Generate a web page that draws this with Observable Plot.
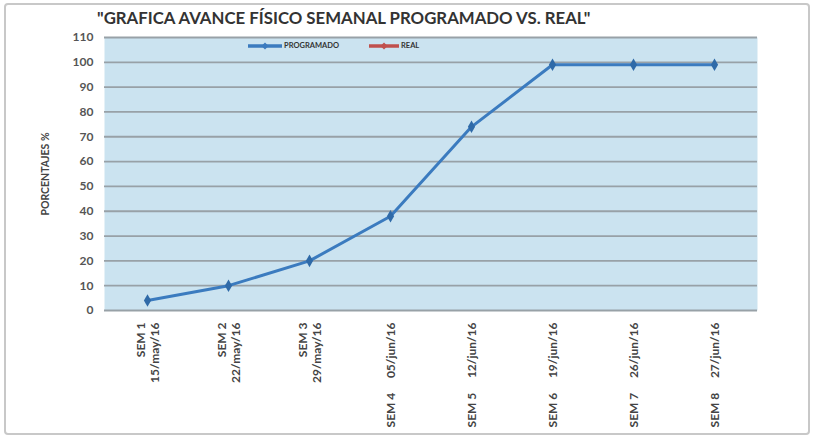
<!DOCTYPE html>
<html>
<head>
<meta charset="utf-8">
<script src="https://cdn.jsdelivr.net/npm/d3@7"></script>
<script src="https://cdn.jsdelivr.net/npm/@observablehq/plot@0.6"></script>
<style>
  body { margin: 0; background: #fff; }
  #wrap { position: relative; width: 831px; height: 447px; overflow: hidden; font-family: Lato, "Open Sans", sans-serif; }
  #border { position: absolute; left: 4px; top: 3px; width: 806px; height: 432px; border: 2px solid #c8c8c8; border-radius: 4px; box-sizing: border-box; }
  #title { position: relative; height: 30px; line-height: 36px; padding-left: 97px; font-weight: 700; font-size: 16.8px; color: #333; white-space: nowrap; }
  #legend { position: absolute; top: 41px; left: 248px; font-size: 7.5px; font-weight: 700; color: #333; display: flex; gap: 30px; align-items: center; }
  #legend span { display: inline-flex; align-items: center; gap: 2px; }
  #chart { position: relative; }
</style>
</head>
<body>
<div id="wrap">
  <div id="border"></div>
  <div id="title">"GRAFICA AVANCE FÍSICO SEMANAL PROGRAMADO VS. REAL"</div>
  <div id="chart"></div>
  <div id="legend"></div>
</div>
<script>
const weeks = ["SEM 1", "SEM 2", "SEM 3", "SEM 4", "SEM 5", "SEM 6", "SEM 7", "SEM 8"];
const dates = ["15/may/16", "22/may/16", "29/may/16", "05/jun/16", "12/jun/16", "19/jun/16", "26/jun/16", "27/jun/16"];
const programado = [4, 10, 20, 38, 74, 99, 99, 99];
const real = [null, null, null, null, null, null, null, null];
const yTicks = [0, 10, 20, 30, 40, 50, 60, 70, 80, 90, 100, 110];
const seriesNames = ["PROGRAMADO", "REAL"];
const seriesColors = ["#3b7bbf", "#c0504d"];

const progData = weeks.map((w, i) => ({week: w, value: programado[i]}));
const realData = weeks.map((w, i) => ({week: w, value: real[i]})).filter(d => d.value != null);

const nb = "\u00a0";
const labelFor = w => {
  const i = weeks.indexOf(w);
  return i < 3 ? `${weeks[i]}\n${dates[i]}` : `${weeks[i]}${nb.repeat(5)}${dates[i]}`;
};

const plot = Plot.plot({
  width: 831,
  height: 417,
  marginTop: 7,
  marginBottom: 137,
  marginLeft: 104,
  marginRight: 74,
  style: {fontFamily: "Lato, 'Open Sans', sans-serif", fontWeight: 700, color: "#444", background: "transparent"},
  x: {type: "point", domain: weeks, padding: 0.5},
  y: {domain: [0, 110], ticks: yTicks},
  marks: [
    Plot.frame({fill: "#cbe3f0", stroke: null}),
    Plot.gridY(yTicks, {stroke: "#98a1a7", strokeOpacity: 1, strokeWidth: 1.8}),
    Plot.axisY({ticks: yTicks, tickSize: 0, tickPadding: 11, fontSize: 12, fontWeight: "bold", fill: "#555",
      label: null}),
    Plot.text(["PORCENTAJES %"], {frameAnchor: "left", textAnchor: "middle", dx: -59, rotate: -90, fontSize: 10.5, fontWeight: "bold", fill: "#444"}),
    Plot.axisX({tickSize: 0, tickPadding: 12, tickRotate: -90, fontSize: 12, fontWeight: "bold", fill: "#444",
      tickFormat: labelFor, label: null, lineHeight: 1.15}),
    Plot.line(progData, {x: "week", y: "value", stroke: seriesColors[0], strokeWidth: 3, curve: "linear"}),
    Plot.dot(progData, {x: "week", y: "value", symbol: "diamond", r: 3.8, fill: "#2f6aa8"}),
    Plot.line(realData, {x: "week", y: "value", stroke: seriesColors[1], strokeWidth: 3}),
    Plot.dot(realData, {x: "week", y: "value", symbol: "square", r: 3.5, fill: seriesColors[1]})
  ]
});
document.getElementById("chart").appendChild(plot);

const legend = document.getElementById("legend");
seriesNames.forEach((name, i) => {
  const s = document.createElement("span");
  const w = i === 0 ? 34 : 30;
  s.innerHTML = `<svg width="${w}" height="8"><line x1="0" y1="4" x2="${w}" y2="4" stroke="${seriesColors[i]}" stroke-width="3.5"/>` +
    `<path d="M${w/2},0.5L${w/2+3.5},4L${w/2},7.5L${w/2-3.5},4Z" fill="${seriesColors[i]}"/></svg>${name}`;
  legend.appendChild(s);
});
</script>
</body>
</html>
